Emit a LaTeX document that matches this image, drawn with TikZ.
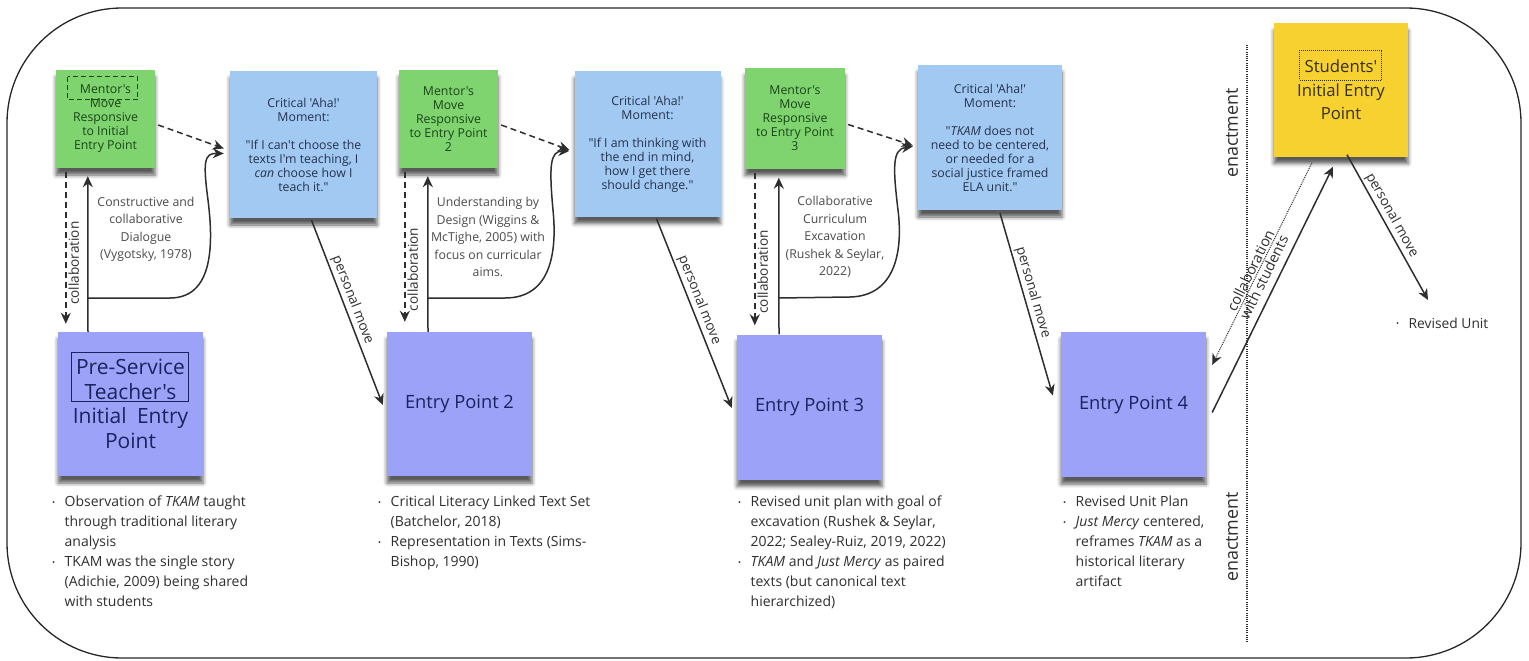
\documentclass[tikz,border=0pt]{standalone}
\usepackage{fontspec}
\setmainfont{Open Sans}[Ligatures=TeXOff]
\usetikzlibrary{arrows.meta,shadows.blur,calc}
\definecolor{gfill}{HTML}{7FD46F}
\definecolor{gtext}{HTML}{1A4418}
\definecolor{bfill}{HTML}{A2C9F1}
\definecolor{btext}{HTML}{24324F}
\definecolor{pfill}{HTML}{9BA2F8}
\definecolor{ptext}{HTML}{1B235F}
\definecolor{yfill}{HTML}{F6D12F}
\definecolor{ytext}{HTML}{35301C}
\definecolor{ink}{HTML}{2E2E2E}
\definecolor{lbl}{HTML}{4A4A4A}
\newcommand{\bul}{\makebox[12.5pt][l]{\fontsize{8}{8}\selectfont\raisebox{1.5pt}{\textbullet}}}
\newcommand{\ind}{\hspace*{12.5pt}}
\begin{document}
\begin{tikzpicture}[x=1pt,y=-1pt,
  note/.style={rectangle, inner sep=2pt, align=center,
    blur shadow={shadow xshift=0pt, shadow yshift=-7pt, shadow opacity=65, shadow blur radius=4pt}},
  gnote/.style={note, fill=gfill, text=gtext, font=\fontsize{12.3}{14}\selectfont},
  bnote/.style={note, fill=bfill, text=btext, font=\fontsize{12.3}{14}\selectfont},
  pnote/.style={note, fill=pfill, text=ptext, font=\fontsize{18.3}{22}\selectfont},
  ynote/.style={note, fill=yfill, text=ytext, font=\fontsize{16.7}{23.5}\selectfont},
  arr/.style={draw=ink, line width=1.5pt, -{Stealth[length=11pt,width=10pt]}},
  dasharr/.style={arr, dash pattern=on 6pt off 4pt},
  dotarr/.style={arr, line width=1pt, dash pattern=on 1pt off 1pt},
  lab/.style={text=ink, font=\fontsize{13.6}{15}\selectfont, inner sep=2pt},
  midlab/.style={text=lbl, align=center, font=\fontsize{12.3}{17.5}\selectfont},
  blist/.style={anchor=north west, align=left, inner sep=0pt, text=ink, font=\fontsize{14}{20}\selectfont},
]
\useasboundingbox (0,0) rectangle (1529,661);
\draw[line width=1.3pt, draw=black!85, rounded corners=115pt] (7,8) rectangle (1521,658);

% sticky notes
\node[gnote, minimum width=99, minimum height=98] (m1) at (105.5,119) {Mentor's\\Move\\Responsive\\to Initial\\Entry Point};
\node[bnote, minimum width=147, minimum height=147] (a1) at (303.5,144.5) {Critical 'Aha!'\\Moment:\\[14pt]"If I can't choose the\\texts I'm teaching, I\\\textit{can} choose how I\\teach it."};
\node[pnote, minimum width=145, minimum height=144, font=\fontsize{21}{24.5}\selectfont] (p1) at (130.5,404) {Pre-Service\\Teacher's\\Initial\hspace{0.5em}Entry\\Point};

\node[gnote, minimum width=99, minimum height=98] (m2) at (448.5,119) {Mentor's\\Move\\Responsive\\to Entry Point\\2};
\node[bnote, minimum width=146, minimum height=145] (a2) at (647.5,144) {Critical 'Aha!'\\Moment:\\[14pt]"If I am thinking with\\the end in mind,\\how I get there\\should change."};
\node[pnote, minimum width=145, minimum height=144] (p2) at (459.5,404) {Entry Point 2};

\node[gnote, minimum width=100, minimum height=100] (m3) at (795,118.5) {Mentor's\\Move\\Responsive\\to Entry Point\\3};
\node[bnote, minimum width=144, minimum height=145] (a3) at (990,137.5) {Critical 'Aha!'\\Moment:\\[14pt]"\textit{TKAM} does not\\need to be centered,\\or needed for a\\social justice framed\\ELA unit."};
\node[pnote, minimum width=145, minimum height=145] (p3) at (809.5,407) {Entry Point 3};

\node[pnote, minimum width=145, minimum height=145] (p4) at (1133.5,404.5) {Entry Point 4};
\node[ynote, minimum width=134, minimum height=133] (s) at (1341,90) {Students'\\Initial Entry\\Point};

% highlight boxes
\draw[gtext, line width=1.2pt, dash pattern=on 5pt off 3pt] ($(m1.north west)+(12,7)$) rectangle ($(m1.north west)+(82,30)$);
\draw[ptext, line width=1.2pt] ($(p1.north west)+(14,21)$) rectangle ($(p1.north west)+(131,70)$);
\draw[ytext, line width=1pt, dash pattern=on 1pt off 1pt] ($(s.north west)+(26,27)$) rectangle ($(s.north west)+(108,57)$);

% stage 1 connectors
\coordinate (j1) at (88,298);
\draw[dasharr] ($(m1.east)+(3,6)$) -- ($(a1.west)+(-6,4)$);
\draw[dasharr] ($(m1.south west)+(10,4)$) -- node[lab, pos=.6, rotate=90, anchor=north] {collaboration} ($(p1.north west)+(8,-8)$);
\draw[arr] (p1.north west -| j1) -- ($(m1.south west)+(32,8)$);
\draw[arr] (j1) -- (170,298) .. controls (215,298) and (213,240) .. (208,200) .. controls (203,162) and (204,153) .. ($(a1.west)+(-6,9)$);
\node[midlab] (t1) at (146,229.5) {Constructive and\\collaborative\\Dialogue\\(Vygotsky, 1978)};
\draw[arr] ($(a1.south)+(8,2)$) -- node[lab, sloped, above, pos=.45] {personal move} ($(p2.west)+(-4,1)$);

% stage 2 connectors
\coordinate (j2) at (428,298);
\draw[dasharr] ($(m2.east)+(3,6)$) -- ($(a2.west)+(-5,6)$);
\draw[dasharr] ($(m2.south west)+(6,4)$) -- node[lab, pos=.65, rotate=90, anchor=north] {collaboration} ($(p2.north west)+(18,-10)$);
\draw[arr] (p2.north west -| j2) -- ($(m2.south west)+(29,8)$);
\draw[arr] (j2) -- (505,298) .. controls (552,298) and (557,250) .. (553,210) .. controls (549,166) and (550,151) .. ($(a2.west)+(-5,7)$);
\node[midlab] (t2) at (488,237) {Understanding by\\Design (Wiggins \&\\McTighe, 2005) with\\focus on curricular\\aims.};
\draw[arr] ($(a2.south)+(9,2)$) -- node[lab, sloped, above, pos=.45] {personal move} ($(p3.west)+(-5,1)$);

% stage 3 connectors
\coordinate (j3) at (779,298);
\draw[dasharr] ($(m3.east)+(3,6)$) -- ($(a3.west)+(-5,8)$);
\draw[dasharr] ($(m3.south west)+(10,4)$) -- node[lab, pos=.65, rotate=90, anchor=north] {collaboration} ($(p3.north west)+(18,-9)$);
\draw[arr] (p3.north west -| j3) -- ($(m3.south west)+(34,9)$);
\draw[arr] (j3) -- (850,297) .. controls (896,296) and (903,250) .. (898,210) .. controls (893,168) and (892,149) .. ($(a3.west)+(-5,9)$);
\node[midlab] (t3) at (835,237) {Collaborative\\Curriculum\\Excavation\\(Rushek \& Seylar,\\2022)};
\draw[arr] ($(a3.south)+(10,3)$) -- node[lab, sloped, above, pos=.45] {personal move} ($(p4.west)+(-8,-9)$);

% stage 4 connectors
\draw[arr] ($(p4.east)+(6,8)$) -- ($(s.south)+(-8,10)$);
\draw[dotarr] ($(s.south)+(-29,6)$) -- node[lab, sloped, pos=.55, align=center, font=\fontsize{14.5}{15}\selectfont] {collaboration\\with students} ($(p4.north east)+(6,33)$);
\coordinate (ru) at (1428,300);
\draw[arr] ($(s.south)+(6,-2)$) -- node[lab, sloped, above, pos=.45] {personal move} (ru);
\node[lab, anchor=west, font=\fontsize{13.8}{15}\selectfont] (rut) at (1394,323) {\bul Revised Unit};

% enactment divider
\draw[ink, line width=1.1pt, dash pattern=on 1pt off 1.2pt] (1247,45) -- (1247,642);
\node[text=ink, rotate=90, font=\fontsize{17.9}{19}\selectfont] (en1) at (1232,133) {enactment};
\node[text=ink, rotate=90, font=\fontsize{17.9}{19}\selectfont] (en2) at (1232,537) {enactment};

% bullet lists
\node[blist] (l1) at (52,496) {\bul Observation of \textit{TKAM} taught\\ \ind through traditional literary\\ \ind analysis\\ \bul TKAM was the single story\\ \ind (Adichie, 2009) being shared\\ \ind with students};
\node[blist] (l2) at (378,496) {\bul Critical Literacy Linked Text Set\\ \ind (Batchelor, 2018)\\ \bul Representation in Texts (Sims-\\ \ind Bishop, 1990)};
\node[blist] (l3) at (738,496) {\bul Revised unit plan with goal of\\ \ind excavation (Rushek \& Seylar,\\ \ind 2022; Sealey-Ruiz, 2019, 2022)\\ \bul \textit{TKAM} and \textit{Just Mercy} as paired\\ \ind texts (but canonical text\\ \ind hierarchized)};
\node[blist] (l4) at (1063,496) {\bul Revised Unit Plan\\ \bul \textit{Just Mercy} centered,\\ \ind reframes \textit{TKAM} as a\\ \ind historical literary\\ \ind artifact};
\end{tikzpicture}
\end{document}
